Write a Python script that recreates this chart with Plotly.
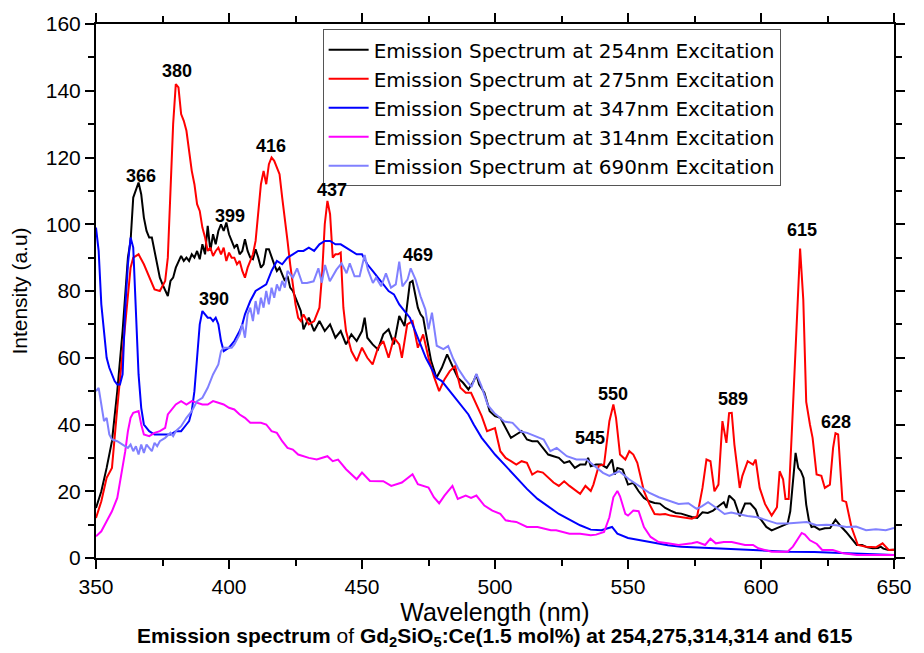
import plotly.graph_objects as go

# ---------------- data ----------------
wl_254 = [350,352,354,356,358,360,362,363,364,365,366,367,368,369,370,371,372,373,374,375,376,377,378,379,380,381,382,383,384,385,386,387,388,389,390,391,392,393,394,395,396,397,398,399,400,401,402,403,404,405,406,407,408,409,410,411,412,413,414,415,416,417,418,419,420,421,422,423,424,425,426,427,428,429,430,432,434,436,438,440,442,444,446,448,450,451,452,454,456,458,460,462,464,466,468,469,470,471,472,473,474,476,478,480,482,484,486,488,490,492,493,494,496,498,500,502,504,506,508,510,512,514,516,518,520,522,524,526,528,530,532,534,535,536,538,540,542,544,545,546,548,550,552,554,556,558,560,562,564,566,568,570,572,574,576,578,580,582,584,586,587,588,590,592,594,596,598,599,600,602,604,606,608,610,611,612,613,614,615,616,617,618,619,620,622,624,626,628,629,630,632,634,636,638,640,642,644,645,646,648,650]
int_254 = [15,20,27,35,50,68,90,95,108,110,112.5,109,102,98,96,96,92,88,84,82,80,78.5,83,84,87,89,90.5,89,90,89,91,90,92,89.5,94,91,99.5,92,97,94,98,100,98,100.5,97,95,93,94,91,92,95.5,92,90,89.5,92.5,90,87,88,92.5,92.5,90,88,86,87,85,83,84.5,81,80,78,76,74,68.5,70.5,72,68,71,68,70,66,68,64,67,65,68,72,66,64,62.5,67,68.5,64,72.5,69.5,82.5,83,79.5,75,73,72,67.5,59,54,57,61,57.5,54,52.5,50.5,53,55,52,49.5,44,42.5,42,39,36,37,38,35.5,35,35,33,31,30.5,30,28.5,29,27,28,28,30,27.5,28,28,27,29.5,25,27,26.5,22,22.5,20,18,17,16.5,16.3,15,14.2,13.5,13.3,12.7,12.3,12,13.7,13.5,14.2,15.5,16.7,15,18.7,17.2,12.5,16.3,16.3,14.5,12.2,11.5,9.3,8.3,9,9.8,10.3,14,22,31.5,27,26,24,16,11.3,9.3,9.5,8.5,8.9,9,11.5,10.3,9.5,7.8,5.9,3.9,3.9,3.2,2.9,3,3.4,2.8,2.4,2.5]

wl_275 = [350,352,354,356,358,360,362,363,364,366,368,370,372,374,376,377,378,379,380,381,382,383,384,385,386,387,388,389,390,391,392,393,394,395,396,397,398,399,400,401,402,403,404,405,406,407,408,409,410,411,412,413,414,415,416,417,418,419,420,421,422,423,424,425,426,427,428,430,432,434,435,436,437,438,439,440,441,442,443,444,445,446,448,450,452,454,456,458,460,462,464,465,467,469,471,473,475,477,479,481,483,485,487,489,491,493,495,497,499,500,502,504,506,508,510,512,514,516,518,520,522,524,526,528,530,532,534,536,537,539,541,543,544.5,545.5,547,549,550.5,552,553.5,556,558,560,562,564,566,568,570,572,574,576,578,579.5,581,582.5,584,585.5,587,588,589,590,592,593,595,597,598,599.5,601.5,604,606,607,608.3,609.2,610.4,611.6,613.2,614.7,615.9,617,618.4,619.4,620.9,622.7,624,625.9,627.1,628,629,630.6,632,634,636.4,639.5,643.2,645.7,648,650]
int_275 = [12,17,24,27,45,62,80,87,90,91,88,84,80.5,80,83,90,110,130,142,141,133,131,128,122,116,112,106,104,99,96,92,93,90.5,92,93,91,93,89,91.5,90,90,88,89,86,84,87,89,91,95,104,112,116,112,118,120,119,117,115,108,102,95,88,82,76,72,71,73,70,71,75,85,100,107,103,90,91,91,91.5,75,68,65,62,59,63,60,58,63,65,60,66,64,60,70,71,63,67,60,54.5,50,53.5,56,57.5,51,49.5,49.5,46,42.5,38,38.5,38.9,32,30,29,28,29,28.5,25,26,25.6,24,22.6,21.6,23,21.6,20.5,19.2,21.6,20.1,22,27.6,28,41,46,42,31,29.5,32,31,28.5,20,16.2,13.2,13,13.2,12.7,12.5,12.2,12,11.8,12.5,21,29.5,29,20,22,41,34.5,43.4,43.5,34,21,24.6,29,28,29.5,21,16.2,12.7,15.2,26,23.6,17.7,17.7,38,67.6,92.7,77.4,46.8,40,36,25,24.6,21,22,33,37.4,37,17.2,16.8,9.3,3.9,3.4,3.2,4.4,2.4,2.5]

wl_347 = [350,351,352,353,354,355,356,357,358,359,360,361,362,363,364,365,366,367,368,370,372,374,376,378,380,382,384,385,386,387,388,389,390,391,392,393,394,395,396,397,398,400,402,404,405,406,408,410,412,414,416,418,420,422,424,426,428,430,432,434,436,438,440,442,444,446,448,450,452,454,456,458,460,462,464,466,468,470,472,474,476,478,480,482,485,488,490,492,495,498,500,504,508,512,516,520,524,528,532,536,540,544,546,550,555,560,565,570,575,580,590,600,610,620,630,640,650]
int_347 = [99,92,76,67,60,57,55,53,52,52,55,75,88,96,93,75,55,45,40,38,37,37,37,37,38,38,40,41,44,50,60,70,74,73,72,72,71,72,70,65,62,63,65,68,70,73,77,80,81,82,86,89,88,90,91,92,92,93,92,94,95,95,94,94,93,92,91,91,88,86,84,82,80,79,76,74,72,68,64,60,57,54,53,51,48,45,43,40,36,33,31,27.6,24,20.7,17.7,15.5,13.2,11.5,9.8,8.5,8.3,9.3,7.3,6,5.2,4.4,3.8,3.4,3.2,3,2.6,2.2,1.9,1.8,1.5,1.2,0.9]

wl_314 = [350,352,354,356,358,360,361,362,363,364,366,367,368,370,372,374,376,377,378,380,382,384,386,388,390,392,394,396,398,400,402,404,406,408,410,412,414,416,418,420,422,424,426,428,430,433,437,439,441,444,448,450,453,458,461,465,469,471,475,477,479,481,484,486,489,491,493,496,499,502,504,506,508,512,516,521,523,528,532,536,538,541,543,544.5,546,547,549,550,552,554,556,558.5,561.5,565,569,574,576,579,581,583,586,589,594,597,599,604,607,610,612,613.5,615.3,616.5,618.4,621,623,627,631,636,642,650]
int_314 = [6.5,8,11,14,18,27,32,38,42,43.5,44,40,37,36.5,37.5,38,39,43,44,46,47,46,47,46.5,46,46,47,46.5,46,45,44.5,43,42,40.5,40.5,40.5,40,38,37.5,35,33,32.5,31,30.5,30,29.5,30.5,29,29.5,26.6,23.6,25.6,23.1,23,21.6,22.6,25.1,22.1,21.1,18.2,16.4,18.7,21.6,17.7,18.7,18,18.7,15.7,14.2,13.2,11.3,11,10.8,9.3,9.3,8.3,8.3,7.3,7.3,6.8,7,7.8,12.2,18.2,20.1,18.5,13.2,12.7,14.2,14,9.3,6.3,4.8,4.4,3.9,4.4,4.8,3.9,5.8,4.4,4.8,4.8,3.9,3.9,2.9,1.9,1.9,1.9,3.4,5.3,7.5,7,5.3,4.2,2.4,2.4,1.4,0.9,0.9,0.9]

wl_690 = [350,351,352,353,354,355,356,358,360,362,363,364,365,366,367,368,369,370,371,372,373,374,376,378,379,380,382,384,386,388,390,392,394,396,397,398,400,401,402,404,405,406,407,408,409,410,411,412,413,414,415,416,417,418,419,420,421,422,424,425.6,427.5,429.3,431.8,433.6,434.9,436.1,437.9,440.4,442.3,444.2,445.4,447.2,449.1,451,452.2,454.1,455.3,457.2,459,460.9,462.7,464,465.2,467.1,468.3,470.1,472,473.8,475,476.3,478.1,480.6,482.4,484.3,486.2,488.7,491.2,493,494.9,497.3,499.8,503.5,506.6,509.7,512.1,515.2,518.3,520.8,523.2,527,530.6,534.4,538.1,540.6,543,546.7,550.4,554.2,557.9,561.6,565.3,569,572.7,575.8,577.7,580.1,583.8,586.3,588.8,591.2,594.9,598.7,602.4,606.1,609.8,613.5,617.2,620.9,624.6,628.3,632.1,635.7,639.5,643.2,646.9,650]
int_690 = [50,51,46,41,42,37,35.5,35,34,33,34,32,33.5,31,34,31.5,34,33,32,34.5,33.5,35,36,37.5,36.5,38,39.5,42,44,47,48,51,55,58,62,63,63,63,64,67,70,66,73,75,71,77,73,78,75,80,76,81,78,82,80,83,81,86,84,86.8,82.4,82.4,82.9,86.8,82.5,87.8,82.9,86.4,88.3,85.3,88.3,84.4,84.4,90.8,86.4,82.4,84,81.4,85.3,81,82,88.8,81.4,83.4,86.8,83.5,78.4,74.5,68.5,73.5,63.6,62.6,63.5,59.7,56.7,53.7,51.3,55.2,51.5,45.8,43.4,40.9,40.5,37.9,37.5,36.4,35.5,32,33,30.5,29.5,29.5,27,25.5,24.6,26,23.6,21.6,19.6,18.2,17.2,16.2,16.4,14.7,15.5,16.7,14.7,13.2,13.6,13.2,12.6,12.2,11.3,10.3,10.3,10.5,10.8,9.8,10,9.8,9.3,9.4,8.3,8.6,8.3,9,9.3]

series_names = ["Emission Spectrum at 254nm Excitation",
                "Emission Spectrum at 275nm Excitation",
                "Emission Spectrum at 347nm Excitation",
                "Emission Spectrum at 314nm Excitation",
                "Emission Spectrum at 690nm Excitation"]
series_colors = ["#000000", "#ff0000", "#0000ff", "#ff00ff", "#8080ff"]

peak_labels = ["366", "380", "399", "390", "416", "437", "469", "545", "550", "589", "615", "628"]
peak_label_x = [367, 380.4, 400.4, 394.5, 415.6, 438.6, 471.2, 535.8, 544.3, 589.5, 615.5, 628.1]
peak_label_y = [114.4, 145.8, 102.5, 77.6, 123.3, 110.2, 90.7, 35.9, 49.2, 47.7, 98.4, 40.9]

# ---------------- figure ----------------
FONT = "Liberation Sans, Arial, sans-serif"
fig = go.Figure()
xs = [wl_254, wl_275, wl_347, wl_314, wl_690]
ys = [int_254, int_275, int_347, int_314, int_690]
for name, col, x, y in zip(series_names, series_colors, xs, ys):
    fig.add_trace(go.Scatter(x=x, y=y, mode="lines", name=name,
                             line=dict(color=col, width=2)))

for t, x, y in zip(peak_labels, peak_label_x, peak_label_y):
    fig.add_annotation(x=x, y=y, text="<b>%s</b>" % t, showarrow=False,
                       font=dict(family=FONT, size=18, color="black"))

fig.add_annotation(xref="paper", yref="paper", x=0.5, y=-0.148,
                   xanchor="center", yanchor="middle",
                   text="<b>Emission spectrum</b> of <b>Gd<sub>2</sub>SiO<sub>5</sub>:Ce(1.5 mol%) at 254,275,314,314 and 615</b>",
                   showarrow=False, font=dict(family=FONT, size=21, color="black"))

axis_common = dict(showline=True, linecolor="black", linewidth=2, mirror="ticks",
                   ticks="outside", ticklen=9, tickwidth=1.5, tickcolor="black",
                   showgrid=False, zeroline=False,
                   tickfont=dict(family=FONT, size=21, color="black"))

fig.update_xaxes(range=[350, 650], dtick=50, tick0=350,
                 minor=dict(dtick=25, ticks="outside", ticklen=6, tickcolor="black", showgrid=False),
                 title=dict(text="Wavelength (nm)", font=dict(family=FONT, size=25, color="black"), standoff=0),
                 **axis_common)
fig.update_yaxes(range=[0, 160], dtick=20, tick0=0,
                 minor=dict(dtick=10, ticks="outside", ticklen=6, tickcolor="black", showgrid=False),
                 title=dict(text="Intensity (a.u)", font=dict(family=FONT, size=21, color="black"), standoff=12),
                 **axis_common)

fig.update_layout(
    width=924, height=653,
    margin=dict(l=96, r=19, t=18, b=95),
    plot_bgcolor="white", paper_bgcolor="white",
    font=dict(family=FONT, color="black"),
    showlegend=True,
    legend=dict(x=0.284, y=0.99, xanchor="left", yanchor="top",
                bgcolor="white", bordercolor="#555555", borderwidth=1,
                font=dict(family="DejaVu Sans, sans-serif", size=20, color="black"),
                tracegroupgap=0, itemwidth=40),
)

fig.write_html("out.html")
